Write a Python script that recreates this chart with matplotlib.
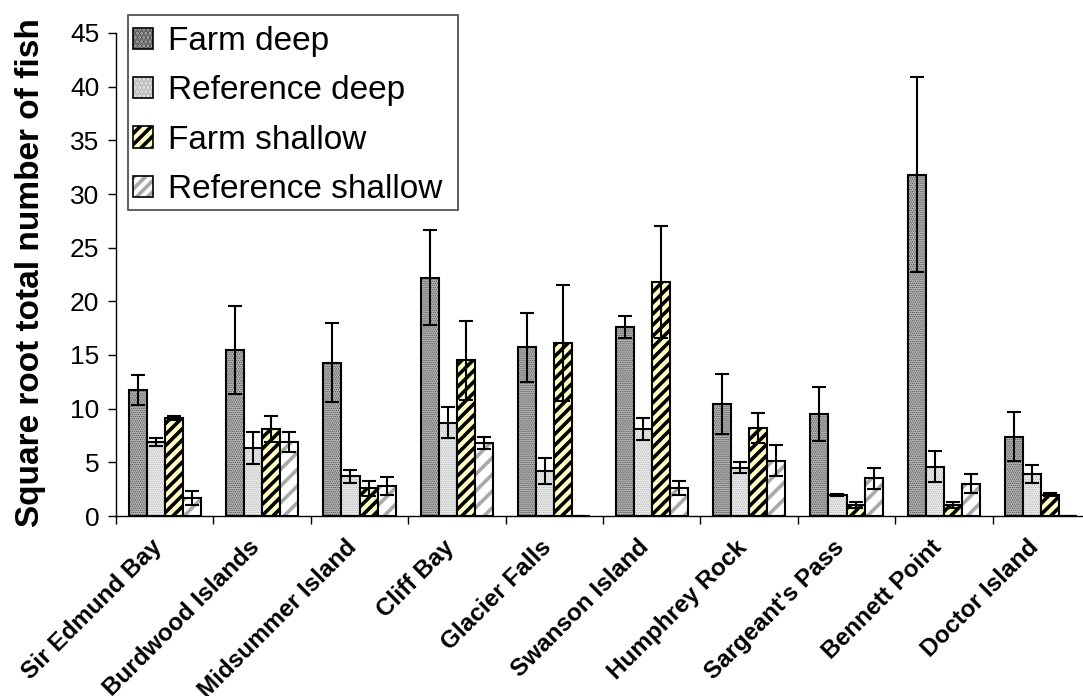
import matplotlib
matplotlib.use("Agg")
import matplotlib.pyplot as plt
import matplotlib.transforms as mtransforms
from matplotlib.patches import Patch, Rectangle
import numpy as np

plt.rcParams['font.family'] = ['Liberation Sans', 'DejaVu Sans']

sites = ["Sir Edmund Bay", "Burdwood Islands", "Midsummer Island", "Cliff Bay",
         "Glacier Falls", "Swanson Island", "Humphrey Rock", "Sargeant's Pass",
         "Bennett Point", "Doctor Island"]

farm_deep = [11.7, 15.5, 14.3, 22.2, 15.7, 17.6, 10.4, 9.5, 31.8, 7.4]
farm_deep_err = [1.4, 4.1, 3.7, 4.4, 3.2, 1.0, 2.8, 2.5, 9.1, 2.3]
ref_deep = [6.9, 6.3, 3.7, 8.7, 4.2, 8.1, 4.5, 1.95, 4.6, 3.9]
ref_deep_err = [0.4, 1.5, 0.6, 1.45, 1.2, 1.0, 0.5, 0.1, 1.45, 0.85]
farm_shallow = [9.1, 8.1, 2.6, 14.5, 16.1, 21.8, 8.2, 1.0, 1.0, 2.0]
farm_shallow_err = [0.2, 1.2, 0.7, 3.7, 5.4, 5.2, 1.4, 0.3, 0.3, 0.1]
ref_shallow = [1.7, 6.9, 2.8, 6.8, 0.0, 2.65, 5.15, 3.5, 3.0, 0.0]
ref_shallow_err = [0.65, 0.9, 0.8, 0.6, 0.0, 0.65, 1.45, 1.0, 0.9, 0.0]

# name, values, errors, face, hatch colour, bar hatch, legend hatch, hatch width
series = [
    ("Farm deep", farm_deep, farm_deep_err, "#b4b4b4", "#505050", "........", "....", 0.6),
    ("Reference deep", ref_deep, ref_deep_err, "#ececec", "#b4b4b4", "........", "....", 0.6),
    ("Farm shallow", farm_shallow, farm_shallow_err, "#ffffc4", "#000000", "///", "///", 2.6),
    ("Reference shallow", ref_shallow, ref_shallow_err, "#ffffff", "#a8a8a8", "//", "///", 2.6),
]

fig = plt.figure(figsize=(10.83, 6.96), dpi=100)
ax = fig.add_axes([116 / 1083, 1 - 516 / 696, 974 / 1083, 483 / 696])

x = np.arange(len(sites))
w = 0.185
handles = []
for i, (name, vals, errs, fc, hc, hatch, lhatch, hlw) in enumerate(series):
    pos = x + (i - 1.5) * w
    plt.rcParams['hatch.linewidth'] = hlw
    fill = ax.bar(pos, vals, w, color=fc, edgecolor=hc, hatch=hatch, linewidth=0)
    for p in fill:
        if hasattr(p, "set_hatch_linewidth"):
            p.set_hatch_linewidth(hlw)
    ax.bar(pos, vals, w, fill=False, edgecolor="black", linewidth=1.5)
    ax.errorbar(pos, vals, yerr=errs, fmt="none", ecolor="black",
                elinewidth=1.5, capsize=5, capthick=1.5)
    hp = Patch(facecolor=fc, edgecolor=hc, hatch=lhatch, linewidth=0)
    if hasattr(hp, "set_hatch_linewidth"):
        hp.set_hatch_linewidth(hlw)
    handles.append((hp, Patch(fill=False, edgecolor="black", linewidth=1.2)))

ax.set_xlim(-0.5, len(sites) - 0.5)
ax.set_ylim(0, 45)
ax.set_yticks(np.arange(0, 46, 5))
ax.tick_params(axis="y", labelsize=19, length=6, width=1, direction="out", pad=6)

ax.set_xticks(np.arange(-0.5, len(sites), 1.0))
ax.set_xticklabels([])
ax.tick_params(axis="x", which="major", length=6, width=1, direction="out")
ax.set_xticks(x, minor=True)
ax.set_xticklabels(sites, minor=True, rotation=45, ha="right", va="center",
                   rotation_mode="anchor", fontsize=17.5, fontweight="bold")
ax.tick_params(axis="x", which="minor", length=0, pad=20)
shift = mtransforms.ScaledTranslation(-6 / 100, 0, fig.dpi_scale_trans)
for lbl in ax.get_xticklabels(minor=True):
    lbl.set_transform(lbl.get_transform() + shift)

for s in ["top", "right"]:
    ax.spines[s].set_visible(False)
ax.spines["left"].set_linewidth(1)
ax.spines["bottom"].set_linewidth(1)

ax.set_ylabel("Square root total number of fish", fontsize=24, fontweight="bold")
ax.yaxis.set_label_coords(-0.072, 0.505)

# legend box drawn separately so its padding matches the original
fig.patches.append(Rectangle((128 / 1083, 1 - 210 / 696), 330 / 1083, 195 / 696,
                             transform=fig.transFigure, facecolor="white",
                             edgecolor="#444444", linewidth=1.2, zorder=2))
leg = fig.legend(handles, [s[0] for s in series], loc="upper left",
                 bbox_to_anchor=(133 / 1083, 1 - 26 / 696), fontsize=24,
                 frameon=False, handlelength=0.6, handleheight=0.6,
                 handletextpad=0.45, labelspacing=0.55, borderpad=0,
                 borderaxespad=0)
leg.set_zorder(3)

fig.savefig("out.png", dpi=100)
